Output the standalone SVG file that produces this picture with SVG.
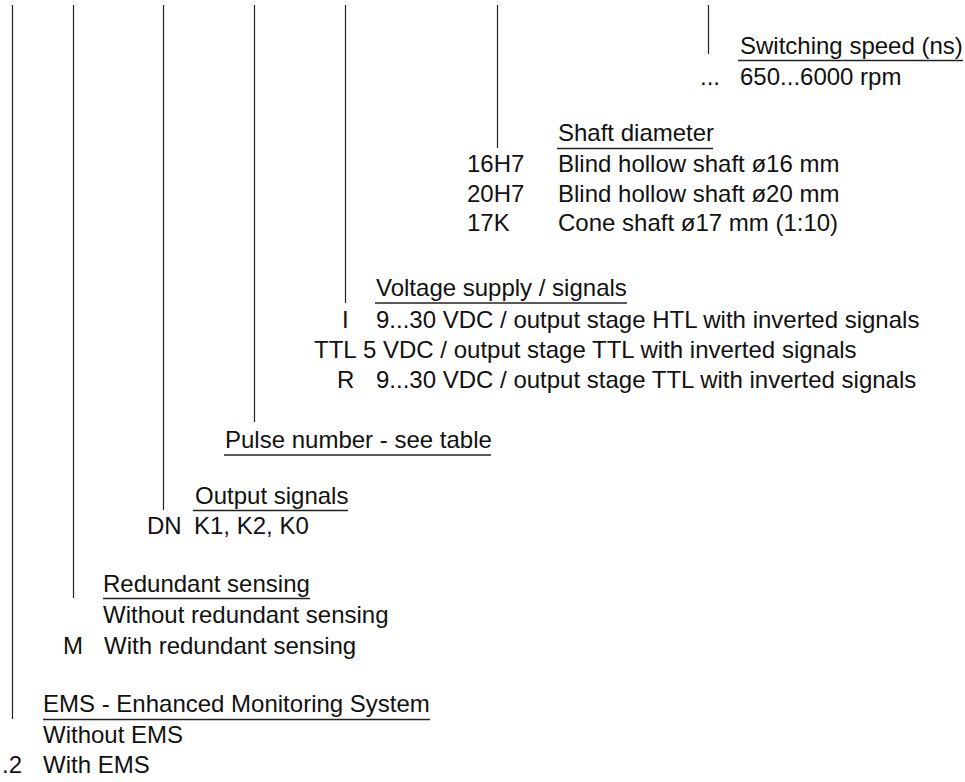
<svg xmlns="http://www.w3.org/2000/svg" width="965" height="782" viewBox="0 0 965 782">
<style>
text{font-family:"Liberation Sans",Arial,sans-serif;font-size:24px;fill:#111}
.ul{stroke:#222;stroke-width:1.5}
.ln{stroke:#222;stroke-width:1.2;fill:none}
</style>
<rect width="965" height="782" fill="#fff"/>
<g id="connectors">
<line class="ln" x1="12.5" y1="5" x2="12.5" y2="719"/>
<line class="ln" x1="73.5" y1="5" x2="73.5" y2="598"/>
<line class="ln" x1="163.5" y1="5" x2="163.5" y2="510"/>
<line class="ln" x1="254.5" y1="5" x2="254.5" y2="422"/>
<line class="ln" x1="345.5" y1="5" x2="345.5" y2="303"/>
<line class="ln" x1="497.5" y1="5" x2="497.5" y2="148"/>
<line class="ln" x1="708.5" y1="5" x2="708.5" y2="54"/>
</g>
<g id="switching">
<text x="740" y="54">Switching speed (ns)</text>
<line class="ul" x1="738" y1="60.5" x2="963" y2="60.5"/>
<text x="700" y="85">...</text>
<text x="740" y="85">650...6000 rpm</text>
</g>
<g id="shaft">
<text x="558" y="141">Shaft diameter</text>
<line class="ul" x1="557" y1="148.5" x2="713" y2="148.5"/>
<text x="467" y="172">16H7</text>
<text x="558" y="172">Blind hollow shaft ø16 mm</text>
<text x="467" y="202">20H7</text>
<text x="558" y="202">Blind hollow shaft ø20 mm</text>
<text x="467" y="231">17K</text>
<text x="558" y="231">Cone shaft ø17 mm (1:10)</text>
</g>
<g id="voltage">
<text x="376" y="296">Voltage supply / signals</text>
<line class="ul" x1="375" y1="303" x2="627" y2="303"/>
<text x="342" y="328">I</text>
<text x="376" y="328">9...30 VDC / output stage HTL with inverted signals</text>
<text x="314" y="358">TTL</text>
<text x="363" y="358">5 VDC / output stage TTL with inverted signals</text>
<text x="337" y="388">R</text>
<text x="376" y="388">9...30 VDC / output stage TTL with inverted signals</text>
</g>
<g id="pulse">
<text x="225" y="448">Pulse number - see table</text>
<line class="ul" x1="224" y1="455" x2="491" y2="455"/>
</g>
<g id="output">
<text x="195" y="504">Output signals</text>
<line class="ul" x1="193" y1="510.5" x2="348" y2="510.5"/>
<text x="147" y="534">DN</text>
<text x="194" y="534">K1, K2, K0</text>
</g>
<g id="redundant">
<text x="103" y="592">Redundant sensing</text>
<line class="ul" x1="103" y1="598.5" x2="310" y2="598.5"/>
<text x="103" y="623">Without redundant sensing</text>
<text x="63" y="654">M</text>
<text x="104" y="654">With redundant sensing</text>
</g>
<g id="ems">
<text x="43" y="712">EMS - Enhanced Monitoring System</text>
<line class="ul" x1="43" y1="719.5" x2="430" y2="719.5"/>
<text x="43" y="743">Without EMS</text>
<text x="2" y="773">.2</text>
<text x="43" y="773">With EMS</text>
</g>
</svg>
